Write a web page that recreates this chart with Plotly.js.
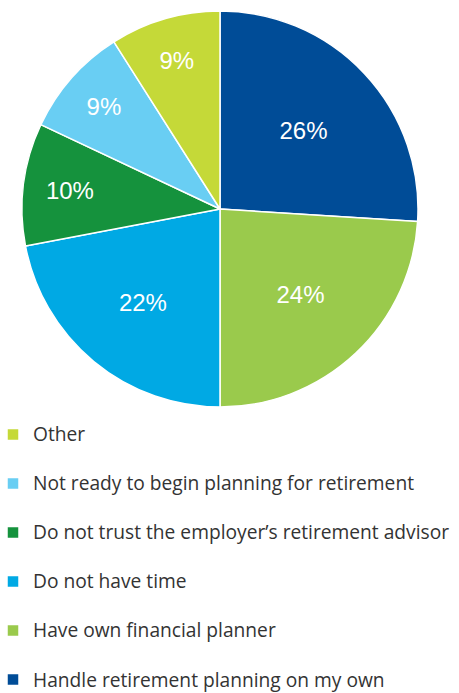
<!DOCTYPE html>
<html>
<head>
<meta charset="utf-8">
<script src="https://cdn.plot.ly/plotly-3.0.1.min.js"></script>
<style>html,body{margin:0;padding:0;background:#fff;}#chart{width:459px;height:693px;}</style>
</head>
<body>
<div id="chart"></div>
<script>
// Data, clockwise from 12 o'clock
const labels = [
  "Handle retirement planning on my own",
  "Have own financial planner",
  "Do not have time",
  "Do not trust the employer\u2019s retirement advisor",
  "Not ready to begin planning for retirement",
  "Other"
];
const values = [26, 24, 22, 10, 9, 9];
const colors = ["#004C97", "#9ACA4C", "#00A9E4", "#15923D", "#69CEF3", "#C5D938"];

// larger text on a blank second line gives the legend its roomy row spacing
const legendLabels = labels.map(l => '<span style="font-size:19.2px">' + l + '</span><br> ');

const trace = {
  type: "pie",
  labels: legendLabels,
  values: values,
  sort: false,
  direction: "clockwise",
  rotation: 0,
  marker: { colors: colors, line: { color: "#ffffff", width: 1.5 } },
  texttemplate: "%{value}%",
  textposition: "inside",
  insidetextorientation: "horizontal",
  insidetextfont: { family: "Liberation Sans, Arial, sans-serif", size: 24, color: "#ffffff" },
  hoverinfo: "percent",
  showlegend: true
};

const layout = {
  width: 459,
  height: 693,
  margin: { l: 22, r: 41, t: 11, b: 286, autoexpand: false },
  paper_bgcolor: "#ffffff",
  showlegend: true,
  legend: {
    traceorder: "reversed",
    valign: "top",
    x: -29 / 396,
    xanchor: "left",
    y: -9.5 / 396,
    yanchor: "top",
    font: { family: "Open Sans, Noto Sans, sans-serif", size: 17.7, color: "#333333" },
    bgcolor: "rgba(0,0,0,0)"
  }
};

Plotly.newPlot("chart", [trace], layout, { displayModeBar: false, staticPlot: true });
</script>
</body>
</html>
